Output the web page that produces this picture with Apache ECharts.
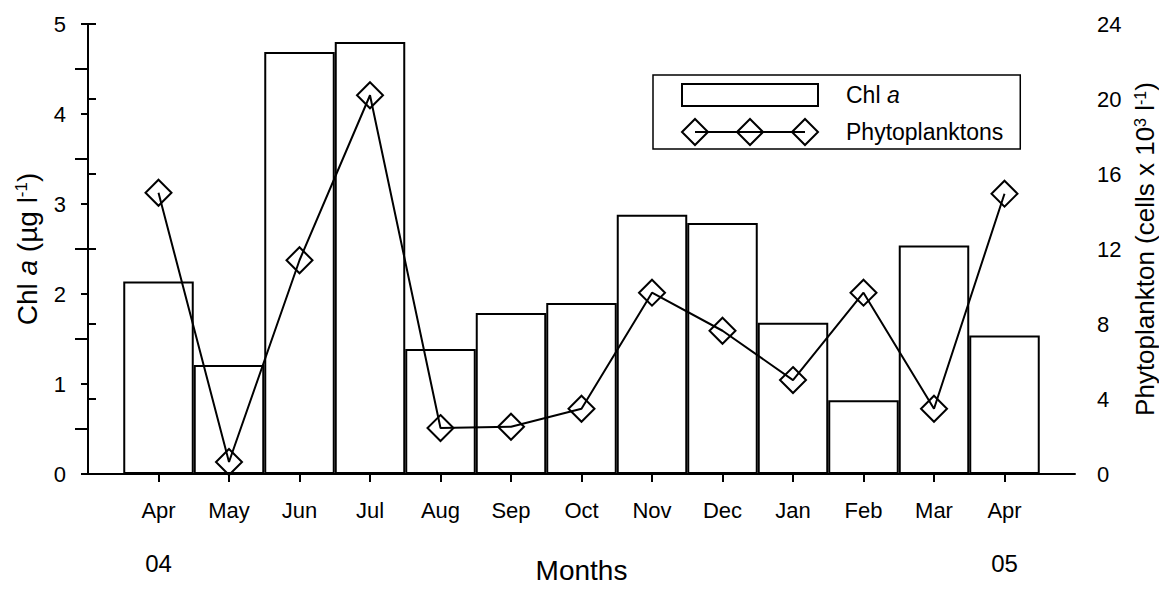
<!DOCTYPE html>
<html><head><meta charset="utf-8">
<script src="https://cdn.jsdelivr.net/npm/echarts@6/dist/echarts.min.js"></script>
<style>html,body{margin:0;padding:0;background:#fff}#c{width:1159px;height:597px}</style>
</head><body><div id="c"></div>
<script>
const months = ['Apr','May','Jun','Jul','Aug','Sep','Oct','Nov','Dec','Jan','Feb','Mar','Apr'];
const yearLabels = ['04','','','','','','','','','','','','05'];
const chlA = [2.14,1.21,4.69,4.80,1.39,1.79,1.90,2.88,2.79,1.68,0.82,2.54,1.54];
const phyto = [15.0,0.64,11.4,20.2,2.45,2.52,3.48,9.67,7.64,5.01,9.67,3.48,14.95];
const leftTicks = [0,1,2,3,4,5];
const rightTicks = [0,4,8,12,16,20,24];

const FONT = 'Liberation Sans, Arial, sans-serif';
const pos = months.map((m,i)=>i+1);
const yearPos = pos.filter((p,i)=>yearLabels[i]!=='');
const LW = 2;

const chart = echarts.init(document.getElementById('c'), null, {renderer:'svg'});
chart.setOption({
  animation:false,
  backgroundColor:'#fff',
  textStyle:{fontFamily:FONT, color:'#000'},
  grid:{left:88, right:84, top:24, bottom:123, containLabel:false, outerBoundsMode:'none'},
  legend:{
    orient:'vertical', left:653, top:75,
    itemWidth:136, itemHeight:26, itemGap:9,
    padding:[6,17,3,28],
    borderColor:'#000', borderWidth:1.5,
    selectedMode:false,
    textStyle:{fontFamily:FONT, fontSize:23, color:'#000', padding:[0,0,0,23],
      rich:{i:{fontStyle:'italic', fontFamily:FONT, fontSize:23, color:'#000'}}},
    formatter:function(n){ return n==='Chl a' ? 'Chl {i|a}' : n; },
    data:[
      {name:'Chl a', icon:'path://M0 0 M136 26 M0 2 L136 2 L136 24 L0 24 Z',
       itemStyle:{color:'#fff', borderColor:'#000', borderWidth:LW}},
      {name:'Phytoplanktons',
       icon:'path://M0 13 L13 0 L26 13 L13 26 Z M55 13 L68 0 L81 13 L68 26 Z M110 13 L123 0 L136 13 L123 26 Z M13 13 L123 13',
       itemStyle:{color:'rgba(0,0,0,0)', borderColor:'#000', borderWidth:LW}}
    ]
  },
  xAxis:[{
    type:'value', min:0, max:pos.length+1,
    axisLine:{show:true, onZero:false, lineStyle:{color:'#000', width:LW}},
    axisTick:{show:true, length:8, customValues:pos, lineStyle:{color:'#000', width:LW}},
    axisLabel:{customValues:pos, margin:25, fontSize:22, color:'#000', fontFamily:FONT,
      formatter:function(v){ return months[Math.round(v)-1] || ''; }},
    splitLine:{show:false},
    name:'Months', nameLocation:'middle', nameGap:82,
    nameTextStyle:{fontSize:28, color:'#000', fontFamily:FONT}
  },{
    type:'value', min:0, max:pos.length+1, position:'bottom',
    axisLine:{show:false}, axisTick:{show:false}, splitLine:{show:false},
    axisLabel:{customValues:yearPos, margin:77, fontSize:24, color:'#000', fontFamily:FONT,
      formatter:function(v){ return yearLabels[Math.round(v)-1] || ''; }}
  }],
  yAxis:[{
    type:'value', min:leftTicks[0], max:leftTicks[leftTicks.length-1], interval:leftTicks[1]-leftTicks[0],
    axisLine:{show:true, lineStyle:{color:'#000', width:LW}},
    axisTick:{show:true, length:7, lineStyle:{color:'#000', width:LW}},
    minorTick:{show:true, splitNumber:2, length:13, lineStyle:{color:'#000', width:LW}},
    axisLabel:{margin:22, fontSize:22, color:'#000', fontFamily:FONT},
    splitLine:{show:false},
    name:'Chl {i|a} (µg l{s|-1})', nameLocation:'middle', nameGap:47, nameRotate:90,
    nameTextStyle:{fontSize:28, color:'#000', fontFamily:FONT,
      rich:{i:{fontStyle:'italic', fontSize:28, fontFamily:FONT, color:'#000'},
            s:{fontSize:17, fontFamily:FONT, color:'#000', verticalAlign:'top', padding:[0,0,10,0]}}}
  },{
    type:'value', position:'right', min:rightTicks[0], max:rightTicks[rightTicks.length-1], interval:rightTicks[1]-rightTicks[0],
    axisLine:{show:true, lineStyle:{color:'#000', width:LW}},
    axisTick:{show:true, length:8, lineStyle:{color:'#000', width:LW}},
    axisLabel:{margin:22, fontSize:22, color:'#000', fontFamily:FONT},
    splitLine:{show:false},
    name:'Phytoplankton (cells x 10{s|3} l{s|-1})', nameLocation:'middle', nameGap:43, nameRotate:90,
    nameTextStyle:{fontSize:26, color:'#000', fontFamily:FONT,
      rich:{s:{fontSize:16, fontFamily:FONT, color:'#000', verticalAlign:'top', padding:[0,0,9,0]}}}
  }],
  series:[{
    name:'Chl a', type:'bar', xAxisIndex:0, yAxisIndex:0,
    barWidth:70.5,
    itemStyle:{color:'#fff', borderColor:'#000', borderWidth:LW},
    data:pos.map((p,i)=>[p, chlA[i]])
  },{
    name:'Phytoplanktons', type:'line', xAxisIndex:0, yAxisIndex:1,
    symbol:'diamond', symbolSize:26,
    lineStyle:{color:'#000', width:LW},
    itemStyle:{color:'rgba(0,0,0,0)', borderColor:'#000', borderWidth:LW},
    data:pos.map((p,i)=>[p, phyto[i]])
  }]
});
</script></body></html>
